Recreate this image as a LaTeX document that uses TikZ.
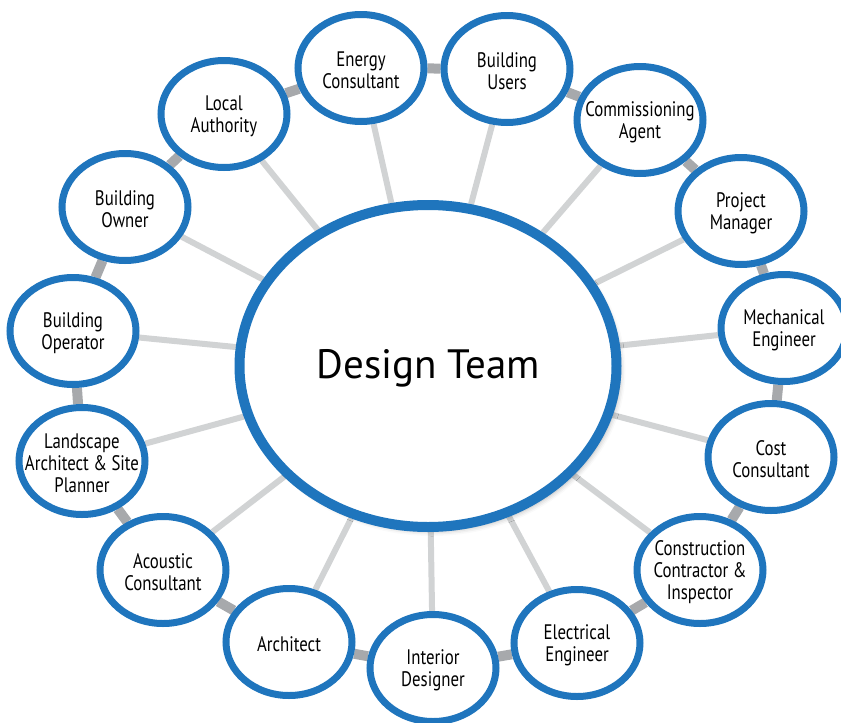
\documentclass[tikz,border=0pt]{standalone}
\usepackage{fontspec}
\setmainfont{PT Sans}
\newfontfamily\narrowfont{PT Sans}[FakeStretch=0.8]
\usetikzlibrary{shapes.geometric, backgrounds, shadows.blur}

\definecolor{teamblue}{RGB}{31,117,189}
\definecolor{ringgrey}{RGB}{167,169,172}
\definecolor{spokegrey}{RGB}{209,211,212}

\begin{document}
\begin{tikzpicture}[x=1pt, y=-1pt,
  member/.style={ellipse, draw=teamblue, fill=white, line width=7pt, minimum width=126pt, minimum height=107pt, inner sep=0pt},
  team/.style={ellipse, draw=teamblue, fill=white, line width=10pt, minimum width=377pt, minimum height=322pt, inner sep=0pt,
    blur shadow={shadow xshift=4pt, shadow yshift=-4pt, shadow blur radius=5pt, shadow opacity=30}},
  every label/.style={font=\narrowfont\fontsize{21}{22}\selectfont, align=center, inner sep=0pt, yshift=-2pt},
  spoke/.style={spokegrey, line width=6pt},
  ring/.style={ringgrey, line width=10pt}]
\useasboundingbox (0,0) rectangle (841,723);

\node[team, label={[font=\fontsize{41}{44}\selectfont]center:{Design Team}}](0) at (428,366) {};

\node[member, label=center:{Energy\\Consultant}](1) at (361,68) {};
\node[member, label=center:{Building\\Users}](2) at (507,69) {};
\node[member, label=center:{Commissioning\\Agent}](3) at (640,120) {};
\node[member, label=center:{Project\\Manager}](4) at (741,211) {};
\node[member, label=center:{Mechanical\\Engineer}](5) at (784,328) {};
\node[member, label=center:{Cost\\Consultant}](6) at (771,457) {};
\node[member, label=center:{Construction\\Contractor \&\\Inspector}](7) at (700,570) {};
\node[member, label=center:{Electrical\\Engineer}](8) at (577,643) {};
\node[member, label=center:{Interior\\Designer}](9) at (433,668) {};
\node[member, label=center:{Architect}](10) at (289,642) {};
\node[member, label=center:{Acoustic\\Consultant}](11) at (163,570) {};
\node[member, label=center:{Landscape\\Architect \& Site\\Planner}](12) at (82,461) {};
\node[member, label=center:{Building\\Operator}](13) at (73,331) {};
\node[member, label=center:{Building\\Owner}](14) at (125,207) {};
\node[member, label=center:{Local\\Authority}](15) at (224,114) {};

\begin{scope}[on background layer]
\draw [spoke](0) -- (1);
\draw [spoke](0) -- (2);
\draw [spoke](0) -- (3);
\draw [spoke](0) -- (4);
\draw [spoke](0) -- (5);
\draw [spoke](0) -- (6);
\draw [spoke](0) -- (7);
\draw [spoke](0) -- (8);
\draw [spoke](0) -- (9);
\draw [spoke](0) -- (10);
\draw [spoke](0) -- (11);
\draw [spoke](0) -- (12);
\draw [spoke](0) -- (13);
\draw [spoke](0) -- (14);
\draw [spoke](0) -- (15);

\draw [ring](1) -- (2);
\draw [ring](2) -- (3);
\draw [ring](3) -- (4);
\draw [ring](4) -- (5);
\draw [ring](5) -- (6);
\draw [ring](6) -- (7);
\draw [ring](7) -- (8);
\draw [ring](8) -- (9);
\draw [ring](9) -- (10);
\draw [ring](10) -- (11);
\draw [ring](11) -- (12);
\draw [ring](12) -- (13);
\draw [ring](13) -- (14);
\draw [ring](14) -- (15);
\draw [ring](15) -- (1);
\end{scope}
\end{tikzpicture}
\end{document}
